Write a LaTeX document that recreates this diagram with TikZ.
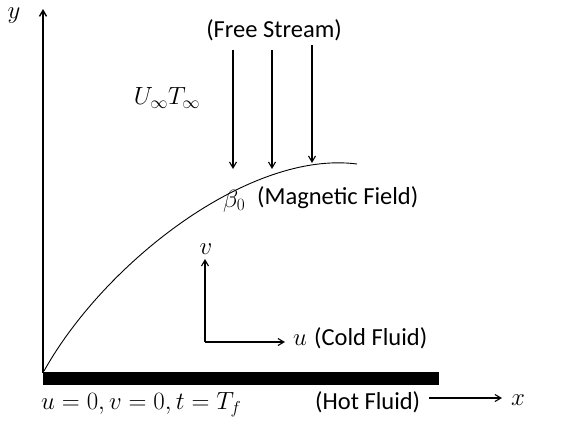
\documentclass[tikz,border=0pt]{standalone}
\usepackage{fontspec}
\setmainfont{Carlito}
\usetikzlibrary{arrows.meta}
\begin{document}
\begin{tikzpicture}[x=1pt,y=-1pt,
  lbl/.style={inner sep=0pt,font=\fontsize{24.5}{28}\selectfont},
  mth/.style={inner sep=0pt,font=\fontsize{26}{30}\selectfont},
  axis/.style={line width=1.4pt,-{Straight Barb[length=6pt,width=7pt]}},
  arr/.style={line width=1.1pt,-{Straight Barb[length=6pt,width=7pt]}}]
\useasboundingbox (0,0) rectangle (569,423);
% axes and plate
\coordinate (O) at (43,373);
\coordinate (ytop) at (43,9);
\draw[axis] (O) -- (ytop);
\node[mth] (ylab) at (14,16) {$y$};
\fill (43,372) rectangle (439,385);
% boundary layer curve
\draw[line width=0.9pt] (44,371) .. controls (105,262) and (250,150) .. (357,164);
% free stream
\node[lbl] (fs) at (274,30) {(Free Stream)};
\node[mth] (uinf) at (167,98) {$U_\infty T_\infty$};
\coordinate (a1s) at (233,50); \coordinate (a1e) at (233,169);
\coordinate (a2s) at (272,50); \coordinate (a2e) at (272,169);
\coordinate (a3s) at (312,45); \coordinate (a3e) at (312,163);
\draw[arr] (a1s) -- (a1e);
\draw[arr] (a2s) -- (a2e);
\draw[arr] (a3s) -- (a3e);
\node[mth,anchor=west] (beta) at (223,201) {$\beta_0$};
\node[lbl,anchor=west] (mag) at (257,198) {(Magnetic Field)};
% local velocity axes
\coordinate (c) at (205,342);
\coordinate (vt) at (205,259);
\coordinate (ut) at (285,342);
\draw[arr] (c) -- (vt);
\draw[arr] (c) -- (ut);
\node[mth] (vlab) at (206,249) {$v$};
\node[mth,anchor=west] (ulab) at (293,340) {$u$};
\node[lbl,anchor=west] (cold) at (314,338) {(Cold Fluid)};
% bottom labels
\node[mth,anchor=west] (bc) at (41,405) {$u=0, v=0, t=T_f$};
\node[lbl,anchor=west] (hot) at (315,402) {(Hot Fluid)};
\coordinate (xs) at (429,398); \coordinate (xe) at (502,398);
\draw[arr] (xs) -- (xe);
\node[mth] (xlab) at (518,400) {$x$};
\end{tikzpicture}
\end{document}
